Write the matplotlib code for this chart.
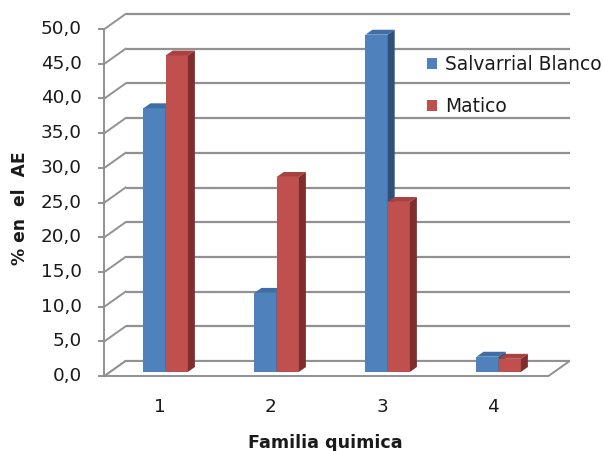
import matplotlib
matplotlib.use("Agg")
import matplotlib.pyplot as plt
from matplotlib.patches import Polygon, Patch

# ---- data ----
categories = ["1", "2", "3", "4"]
series_names = ["Salvarrial Blanco", "Matico"]
salvarrial = [38.0, 11.4, 48.6, 2.2]
matico = [45.6, 28.1, 24.5, 1.9]
y_ticks = [0, 5, 10, 15, 20, 25, 30, 35, 40, 45, 50]
y_tick_labels = ["0,0", "5,0", "10,0", "15,0", "20,0", "25,0", "30,0", "35,0", "40,0", "45,0", "50,0"]

# ---- styling ----
face_cols = [("#4F81BD", "#3F6DA6", "#2F5078"), ("#C0504D", "#A8423F", "#7E2F2D")]
grid_col = "#919191"
text_col = "#1A1A1A"
DX, DY = 0.19, 2.16          # depth of the 3D box (category units, value units)
F0 = 0.27                    # depth position of bars in box
BDX, BDY = 0.063, 0.71       # bar depth
BW = 0.2

fig = plt.figure(figsize=(6.03, 4.51), dpi=100)
ax = fig.add_axes([0, 0, 1, 1])
ax.set_xlim(-0.4414, 4.991)
ax.set_ylim(-10.807, 54.18)
ax.axis("off")

x0 = 0.5
x1 = 0.5 + len(categories)
ymax = y_ticks[-1]

# back wall gridlines + left wall diagonals
for v, lab in zip(y_ticks, y_tick_labels):
    ax.plot([x0 + DX, x1 + DX], [v + DY, v + DY], color=grid_col, lw=1.6, zorder=1,
            solid_capstyle="butt")
    ax.plot([x0, x0 + DX], [v, v + DY], color=grid_col, lw=1.4, zorder=1)
    ax.plot([x0 - 0.054, x0], [v, v], color=grid_col, lw=1.4, zorder=1)
    ax.text(0.297, v, lab, ha="right", va="center",
            fontsize=13.2, color=text_col, family="DejaVu Sans")

# front axis
ax.plot([x0, x0], [0, ymax], color=grid_col, lw=1.4, zorder=1)
# floor
floor = Polygon([(x0, 0), (x1, 0), (x1 + DX, DY), (x0 + DX, DY)], closed=True,
                facecolor="white", edgecolor=grid_col, lw=1.4, zorder=1)
ax.add_patch(floor)

# bars
ox, oy = F0 * DX, F0 * DY
for si, vals in enumerate([salvarrial, matico]):
    front, top, side = face_cols[si]
    for ci, v in enumerate(vals):
        left = (ci + 1) + ox - BW + si * BW
        right = left + BW
        b = oy
        t = oy + v
        ax.bar(left, v, width=BW, bottom=b, align="edge", color=front,
               edgecolor="none", zorder=3 + si * 3)
        ax.add_patch(Polygon([(left, t), (right, t), (right + BDX, t + BDY), (left + BDX, t + BDY)],
                             closed=True, facecolor=top, edgecolor="none", zorder=4 + si * 3))
        ax.add_patch(Polygon([(right, b), (right + BDX, b + BDY), (right + BDX, t + BDY), (right, t)],
                             closed=True, facecolor=side, edgecolor="none", zorder=4 + si * 3))

# category labels
for ci, c in enumerate(categories):
    ax.text(ci + 1, -4.47, c, ha="center", va="center", fontsize=13.2, color=text_col)

# axis titles
fig.text(325 / 603, 1 - 448 / 451, "Familia quimica", ha="center", va="baseline",
         fontsize=12.6, fontweight="bold", color=text_col)
fig.text(20 / 603, 1 - 208 / 451, "% en  el  AE", ha="center", va="center", rotation=90,
         fontsize=12.3, fontweight="bold", color=text_col)

# legend
handles = [Patch(facecolor=face_cols[i][0], edgecolor="none") for i in range(2)]
fig.legend(handles, series_names, loc="upper left", bbox_to_anchor=(427 / 603, 1 - 55 / 451),
           frameon=False, fontsize=13.4, handlelength=0.55, handleheight=0.55,
           handletextpad=0.4, labelspacing=1.22, borderpad=0, borderaxespad=0,
           labelcolor=text_col)

fig.savefig("out.png", dpi=100)
